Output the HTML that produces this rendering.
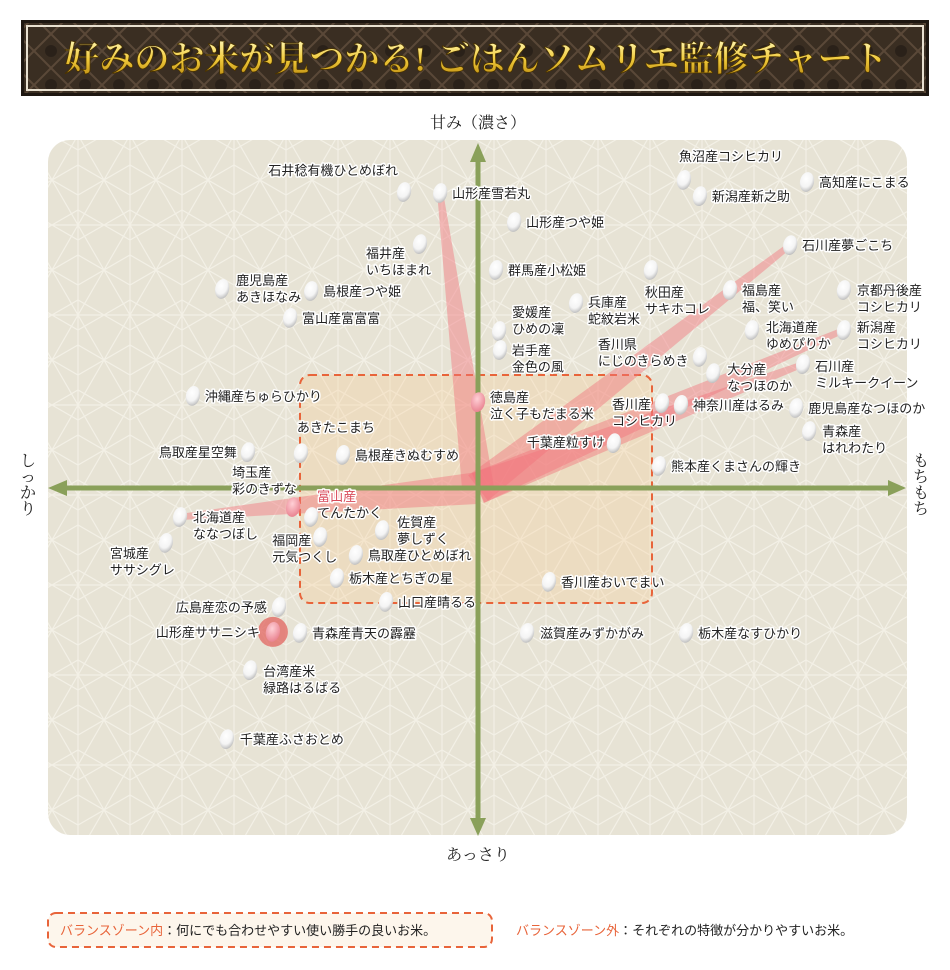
<!DOCTYPE html>
<html lang="ja"><head><meta charset="utf-8">
<style>
html,body{margin:0;padding:0;background:#fff;width:950px;height:970px;overflow:hidden}
svg{display:block}
.lab{font-family:"Liberation Sans","Noto Sans CJK JP",sans-serif;font-size:13px;fill:#222;stroke:#fff;stroke-width:3px;paint-order:stroke;stroke-linejoin:round}
.ax{font-family:"Liberation Serif","Noto Serif CJK JP",serif;font-size:16px;fill:#222}
.leg{font-family:"Liberation Sans","Noto Sans CJK JP",sans-serif;font-size:13px;fill:#222}
</style></head><body>
<svg id="chart" width="950" height="970" viewBox="0 0 950 970" xmlns="http://www.w3.org/2000/svg">
<defs>
<pattern id="asa" width="52" height="90" patternUnits="userSpaceOnUse">
<rect width="52" height="90" fill="#e7e3d5"/>
<g stroke="#f3f0e6" stroke-width="1.2" fill="none">
<path d="M0 0 L52 90 M52 0 L0 90 M26 0 V90 M0 45 H52 M0 0 L26 15 L52 0 M0 90 L26 75 L52 90 M0 45 L26 30 L52 45 L26 60 Z M26 15 L26 30 M26 60 L26 75"/>
</g>
</pattern>
<pattern id="ban" width="34" height="34" patternUnits="userSpaceOnUse">
<rect width="34" height="34" fill="#3a2e22"/>
<path d="M0 17 L17 0 L34 17 L17 34Z" fill="none" stroke="#5a4838" stroke-width="2"/>
<circle cx="17" cy="17" r="6" fill="#2a2119"/>
</pattern>
<linearGradient id="gold" x1="0" y1="0" x2="0" y2="1">
<stop offset="0" stop-color="#fff6b0"/><stop offset="0.5" stop-color="#f0c93a"/><stop offset="1" stop-color="#b8860b"/>
</linearGradient>
<radialGradient id="gw" cx="0.4" cy="0.35" r="0.7">
<stop offset="0" stop-color="#ffffff"/><stop offset="0.6" stop-color="#f4f4f4"/><stop offset="1" stop-color="#b9b9b9"/>
</radialGradient>
<radialGradient id="gp" cx="0.4" cy="0.35" r="0.7">
<stop offset="0" stop-color="#ffd0d6"/><stop offset="1" stop-color="#e8808e"/>
</radialGradient>
</defs>

<g>
<rect x="21" y="20" width="908" height="76" fill="#1e1711"/>
<rect x="24" y="23" width="902" height="70" fill="url(#ban)"/>
<rect x="27" y="26" width="896" height="64" fill="none" stroke="#e8e0d0" stroke-width="2"/>
<text x="476" y="71" text-anchor="middle" font-family="'Liberation Serif','Noto Serif CJK JP',serif" font-weight="bold" font-size="35" fill="url(#gold)" stroke="#4a3300" stroke-width="0.8">好みのお米が見つかる! ごはんソムリエ監修チャート</text>
</g>

<rect x="48" y="140" width="859" height="695" rx="22" fill="url(#asa)"/>
<rect x="300" y="375" width="352" height="228" rx="10" fill="rgba(250,205,150,0.3)" stroke="#e8643a" stroke-width="2" stroke-dasharray="7,5"/>

<g id="wedges"></g>

<g>
<line x1="478" y1="160" x2="478" y2="820" stroke="#8aa05a" stroke-width="5"/>
<polygon points="470,162 486,162 478,143" fill="#8aa05a"/>
<polygon points="470,818 486,818 478,836" fill="#8aa05a"/>
<line x1="66" y1="488" x2="890" y2="488" stroke="#8aa05a" stroke-width="5"/>
<polygon points="67,480 67,496 48,488" fill="#8aa05a"/>
<polygon points="888,480 888,496 906,488" fill="#8aa05a"/>
</g>

<g id="points"></g>

<text class="ax" x="478" y="128" text-anchor="middle">甘み（濃さ）</text>
<text class="ax" x="478" y="860" text-anchor="middle">あっさり</text>
<text class="ax" x="28" y="466" text-anchor="middle"><tspan x="28" dy="0">し</tspan><tspan x="28" dy="16">っ</tspan><tspan x="28" dy="16">か</tspan><tspan x="28" dy="16">り</tspan></text>
<text class="ax" x="921" y="466" text-anchor="middle"><tspan x="921" dy="0">も</tspan><tspan x="921" dy="16">ち</tspan><tspan x="921" dy="16">も</tspan><tspan x="921" dy="16">ち</tspan></text>

<g>
<rect x="48" y="913" width="444" height="34" rx="8" fill="#fdf6ec" stroke="#e8643a" stroke-width="2" stroke-dasharray="7,5"/>
<text class="leg" x="60" y="935"><tspan fill="#e8643a">バランスゾーン内</tspan>：何にでも合わせやすい使い勝手の良いお米。</text>
<text class="leg" x="516" y="935"><tspan fill="#e8643a">バランスゾーン外</tspan>：それぞれの特徴が分かりやすいお米。</text>
</g>
</svg>
<script>
const names=["石井稔有機ひとめぼれ","山形産雪若丸","山形産つや姫","福井産/いちほまれ","群馬産小松姫","鹿児島産/あきほなみ","島根産つや姫","富山産富富富","愛媛産/ひめの凜","岩手産/金色の風","兵庫産/蛇紋岩米","秋田産/サキホコレ","香川県/にじのきらめき","魚沼産コシヒカリ","新潟産新之助","高知産にこまる","石川産夢ごこち","福島産/福、笑い","京都丹後産/コシヒカリ","北海道産/ゆめぴりか","新潟産/コシヒカリ","大分産/なつほのか","石川産/ミルキークイーン","香川産/コシヒカリ","神奈川産はるみ","鹿児島産なつほのか","青森産/はれわたり","千葉産粒すけ","熊本産くまさんの輝き","徳島産/泣く子もだまる米","沖縄産ちゅらひかり","あきたこまち","島根産きぬむすめ","鳥取産星空舞","埼玉産/彩のきずな","富山産/てんたかく","北海道産/ななつぼし","宮城産/ササシグレ","福岡産/元気つくし","佐賀産/夢しずく","鳥取産ひとめぼれ","栃木産とちぎの星","山口産晴るる","香川産おいでまい","広島産恋の予感","山形産ササニシキ","青森産青天の霹靂","滋賀産みずかがみ","栃木産なすひかり","台湾産米/緑路はるばる","千葉産ふさおとめ"];
const firmness=[-17.2,-8.8,8.4,-13.5,4.2,-59.5,-38.8,-43.7,4.9,5.1,22.8,40.2,51.6,47.9,51.6,76.5,72.6,58.6,85.1,63.7,85.1,54.7,75.6,42.8,47.2,74.0,77.0,31.6,42.1,0,-66.3,-41.2,-31.4,-53.5,-38.8,-43.0,-69.3,-72.6,-36.7,-22.3,-28.4,-32.8,-21.4,16.5,-46.3,-47.7,-41.4,11.4,48.4,-53.0,-58.4];
const sweetness=[85.8,85.5,77.1,70.7,63.2,57.7,57.1,49.3,45.5,40.0,53.6,63.2,38.0,89.3,84.6,88.7,70.4,57.4,57.4,45.8,45.8,33.3,35.9,24.6,24.1,23.2,16.5,13.0,6.4,24.9,26.7,10.1,9.6,10.4,-8.4,-5.5,-8.4,-15.9,-14.2,-12.2,-19.4,-26.1,-33.0,-27.2,-34.5,-41.7,-42.0,-42.0,-42.0,-52.8,-72.8];
const highlighted=["徳島産/泣く子もだまる米","富山産/てんたかく"];
const wedgeTargets=["山形産雪若丸","石川産夢ごこち","新潟産/コシヒカリ","石川産/ミルキークイーン","北海道産/ななつぼし"];
const selected="山形産ササニシキ";
// label layout (not data): [dx, dy, anchor]
const labLayout=[[-6,-17,"end"],[12,5,"start"],[12,5,"start"],[-54,14,"start"],[12,5,"start"],[14,-4,"start"],[12,5,"start"],[12,5,"start"],[13,-14,"start"],[12,5,"start"],[12,4,"start"],[-6,27,"start"],[-102,-8,"start"],[-5,-19,"start"],[12,5,"start"],[12,5,"start"],[12,5,"start"],[12,5,"start"],[13,5,"start"],[14,2,"start"],[13,2,"start"],[14,1,"start"],[12,7,"start"],[-50,6,"start"],[12,5,"start"],[12,5,"start"],[13,5,"start"],[-9,4,"end"],[12,5,"start"],[12,0,"start"],[12,5,"start"],[-4,-21,"start"],[12,5,"start"],[-11,5,"end"],[-79,-40,"start"],[24,-6,"start"],[13,5,"start"],[-56,15,"start"],[-48,8,"start"],[15,-3,"start"],[12,5,"start"],[12,5,"start"],[12,5,"start"],[12,5,"start"],[-12,5,"end"],[-13,5,"end"],[12,5,"start"],[13,5,"start"],[12,5,"start"],[13,6,"start"],[13,5,"start"]];
const CX=478,CY=488;
function sx(v){return CX+v*4.3;}
function sy(v){return CY-v*3.45;}
const NS="http://www.w3.org/2000/svg";
const wg=document.getElementById("wedges");
wedgeTargets.forEach(function(t){
  const i=names.indexOf(t);
  const tx=sx(firmness[i]),ty=sy(sweetness[i]);
  const dx=tx-CX,dy=ty-CY,L=Math.hypot(dx,dy),nx=-dy/L,ny=dx/L;
  const w0=16,w1=3;
  const p=document.createElementNS(NS,"polygon");
  p.setAttribute("points",[(CX+nx*w0)+","+(CY+ny*w0),(tx+nx*w1)+","+(ty+ny*w1),(tx-nx*w1)+","+(ty-ny*w1),(CX-nx*w0)+","+(CY-ny*w0)].join(" "));
  p.setAttribute("fill","rgba(242,115,125,0.45)");
  
  
  wg.appendChild(p);
});
const pg=document.getElementById("points");
names.forEach(function(n,i){
  const x=sx(firmness[i]),y=sy(sweetness[i]);
  const g=document.createElementNS(NS,"g");
  
  
  if(n===selected){
    const c=document.createElementNS(NS,"circle");
    c.setAttribute("cx",x);c.setAttribute("cy",y);c.setAttribute("r",15);
    c.setAttribute("fill","rgba(225,100,95,0.75)");
    
    
    g.appendChild(c);
  }
  const e=document.createElementNS(NS,"ellipse");
  e.setAttribute("cx",x);e.setAttribute("cy",y);e.setAttribute("rx",7);e.setAttribute("ry",10);
  e.setAttribute("transform","rotate(12 "+x+" "+y+")");
  const hl=highlighted.indexOf(n)>=0||n===selected;
  e.setAttribute("fill",hl?"url(#gp)":"url(#gw)");
  
  
  g.appendChild(e);
  const L=labLayout[i];
  const t=document.createElementNS(NS,"text");
  t.setAttribute("class","lab");
  t.setAttribute("text-anchor",L[2]);
  
  
  n.split("/").forEach(function(s,k){
    const ts=document.createElementNS(NS,"tspan");
    ts.setAttribute("x",x+L[0]);
    ts.setAttribute("y",y+L[1]+k*16.5);
    if(n==="富山産/てんたかく"&&k===0)ts.setAttribute("fill","#d94a5a");
    ts.textContent=s;
    t.appendChild(ts);
  });
  g.appendChild(t);
  pg.appendChild(g);
});
</script>
</body></html>
